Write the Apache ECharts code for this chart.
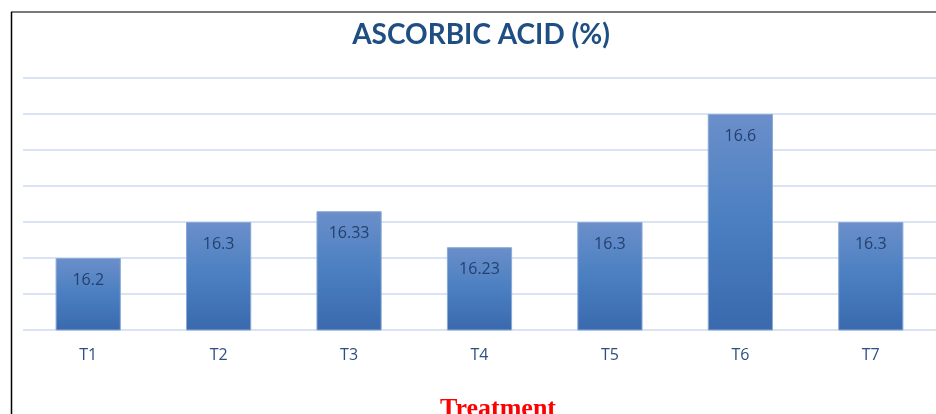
<!DOCTYPE html>
<html>
<head>
<meta charset="utf-8">
<script src="https://cdn.jsdelivr.net/npm/echarts@6/dist/echarts.min.js"></script>
<style>
  html, body { margin: 0; padding: 0; background: #fff; }
  #chart { width: 936px; height: 414px; }
</style>
</head>
<body>
<div id="chart"></div>
<script>
// Ascorbic acid content per treatment
const treatments = ['T1', 'T2', 'T3', 'T4', 'T5', 'T6', 'T7'];
const ascorbicAcid = [16.2, 16.3, 16.33, 16.23, 16.3, 16.6, 16.3];
const axisMin = 16.0;
const axisMax = 16.7;
const axisStep = 0.1;

const chart = echarts.init(document.getElementById('chart'));

const barFill = new echarts.graphic.LinearGradient(0, 0, 0, 1, [
  { offset: 0, color: '#6b8fca' },
  { offset: 0.5, color: '#4a7fc1' },
  { offset: 1, color: '#3a69ad' }
]);

chart.setOption({
  animation: false,
  title: {
    text: 'ASCORBIC ACID (%)',
    left: 476,
    top: 16,
    textAlign: 'center',
    textStyle: {
      fontFamily: 'Lato',
      fontWeight: 'bold',
      fontSize: 28,
      color: '#1f4e82'
    }
  },
  grid: { left: 23, right: 0, top: 78, bottom: 84 },
  xAxis: {
    type: 'category',
    data: treatments,
    axisLine: { show: false },
    axisTick: { show: false },
    axisLabel: {
      margin: 17,
      fontFamily: 'Open Sans',
      fontSize: 16,
      color: '#2f4f80'
    }
  },
  yAxis: {
    type: 'value',
    min: axisMin,
    max: axisMax,
    interval: axisStep,
    axisLabel: { show: false },
    axisLine: { show: false },
    axisTick: { show: false },
    splitLine: { lineStyle: { color: '#d9e3f1', width: 2 } }
  },
  series: [{
    type: 'bar',
    data: ascorbicAcid,
    barWidth: '50%',
    itemStyle: { color: barFill, borderColor: '#8aaad6', borderWidth: 1 },
    label: {
      show: true,
      position: 'insideTop',
      distance: 14,
      fontFamily: 'Open Sans',
      fontSize: 16,
      color: '#24406e'
    }
  }],
  graphic: [
    { type: 'line', shape: { x1: 11, y1: 12, x2: 936, y2: 12 }, style: { stroke: '#7a7a7a', lineWidth: 2 } },
    { type: 'line', shape: { x1: 11.5, y1: 12, x2: 11.5, y2: 414 }, style: { stroke: '#000', lineWidth: 1.5 } },
    {
      type: 'text',
      left: 440,
      top: 396,
      style: {
        text: 'Treatment',
        fontFamily: 'Liberation Serif',
        fontWeight: 'bold',
        fontSize: 26,
        fill: '#ff0000'
      }
    }
  ]
});
</script>
</body>
</html>
